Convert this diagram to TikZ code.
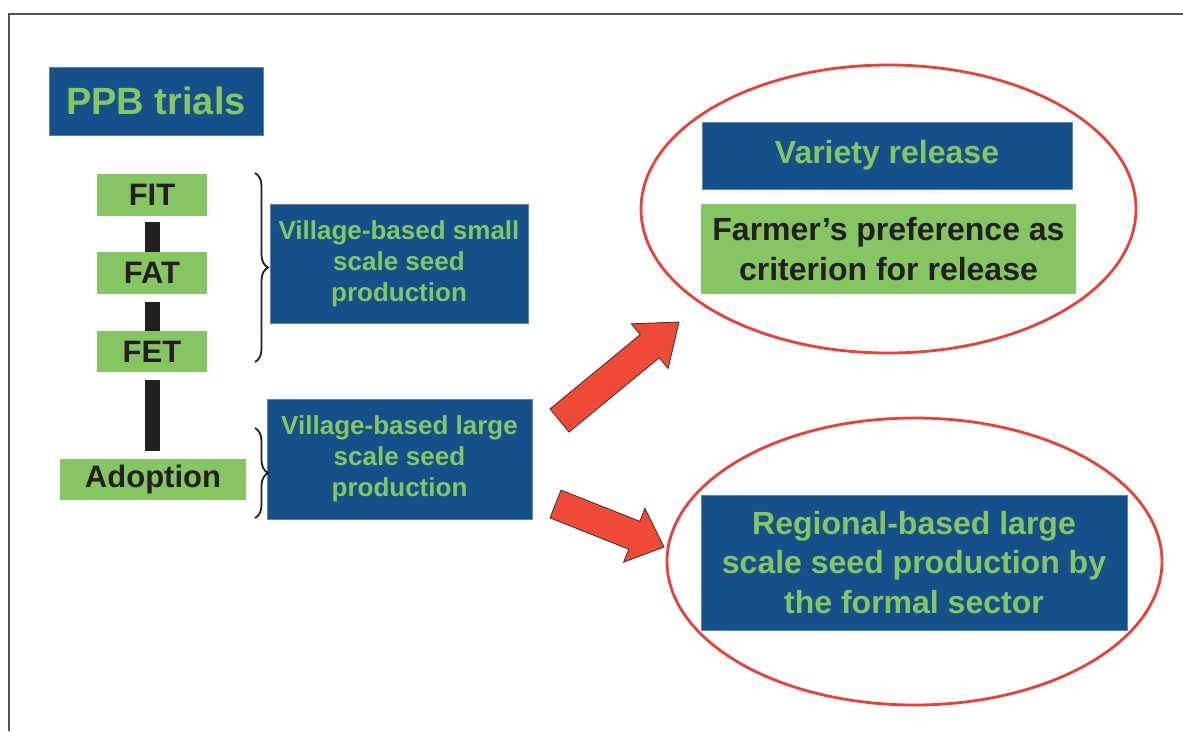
\documentclass[tikz,border=0pt]{standalone}
\usepackage{fontspec}
\setmainfont{Liberation Sans}
\usetikzlibrary{shapes.geometric,decorations.pathreplacing}
\definecolor{pblue}{RGB}{22,80,138}
\definecolor{pgreen}{RGB}{133,198,99}
\definecolor{ptext}{RGB}{35,31,32}
\definecolor{pred}{RGB}{232,66,54}
\definecolor{arrowred}{RGB}{238,74,55}
\definecolor{arrowedge}{RGB}{70,45,45}
\definecolor{framegray}{RGB}{85,85,85}
\begin{document}
\begin{tikzpicture}[x=1pt,y=-1pt,
  bluebox/.style={fill=pblue, draw=pblue!70!white, line width=0.6pt, text=pgreen, inner sep=0pt, align=center},
  greenbox/.style={fill=pgreen, text=ptext, inner sep=0pt, align=center},
  fbig/.style={font=\fontsize{38}{44}\selectfont\bfseries},
  fmid/.style={font=\fontsize{31}{36}\selectfont\bfseries},
  fcirc/.style={font=\fontsize{32}{39.5}\selectfont\bfseries},
  fsmall/.style={font=\fontsize{26}{31}\selectfont\bfseries},
  barline/.style={draw=ptext, line width=15pt},
  bracestyle/.style={draw=ptext, line width=1.8pt, decorate, decoration={brace, amplitude=13pt}},
  ringstyle/.style={draw=pred, line width=2.8pt, ellipse, inner sep=0pt},
  blockarrow/.style={fill=arrowred, draw=arrowedge, line width=0.8pt, line join=miter}
]
\useasboundingbox (0,0) rectangle (1183,731);
% frame
\draw[framegray, line width=1.6pt] (9,731) -- (9,14) -- (1183,14);

% left column
\node[bluebox, fbig, minimum width=214pt, minimum height=68pt] (ppb) at (156,101) {PPB trials};
\node[greenbox, fmid, minimum width=110pt, minimum height=42pt] (fit) at (152,195) {FIT};
\node[greenbox, fmid, minimum width=110pt, minimum height=42pt] (fat) at (152,273) {FAT};
\node[greenbox, fmid, minimum width=110pt, minimum height=41pt] (fet) at (152,351.5) {FET};
\node[greenbox, fmid, minimum width=186pt, minimum height=41pt] (adoption) at (153,479.5) {Adoption};

\draw[barline, shorten <=6pt] (fit.south) -- (fit.south |- fat.north);
\draw[barline, shorten <=8pt] (fat.south) -- (fat.south |- fet.north);
\draw[barline, shorten <=8pt, shorten >=8pt] (fet.south) -- (fet.south |- adoption.north);

% middle boxes
\node[bluebox, fsmall, minimum width=258pt, minimum height=119pt] (small) at (399,263.5) {Village-based small\\scale seed\\production};
\node[bluebox, fsmall, minimum width=265pt, minimum height=120pt] (large) at (399.5,459) {Village-based large\\scale seed\\production};

% braces
\coordinate (b1top) at (255,173);
\coordinate (b1bot) at (255,362);
\coordinate (b2top) at (255,428);
\coordinate (b2bot) at (255,518);
\draw[bracestyle] (b1top) -- (b1bot);
\draw[bracestyle] (b2top) -- (b2bot);

% right ellipses
\node[ringstyle, minimum width=495pt, minimum height=288pt] (ring1) at (888.5,209) {};
\node[bluebox, fcirc, minimum width=370pt, minimum height=67pt] (variety) at (887,155.5) {Variety release};
\node[greenbox, fcirc, minimum width=375pt, minimum height=90pt] (farmer) at (888.5,249) {Farmer’s preference as\\criterion for release};

\node[ringstyle, minimum width=495pt, minimum height=287pt] (ring2) at (914.5,561.5) {};
\node[bluebox, fcirc, minimum width=426pt, minimum height=135pt] (regional) at (914,562.5) {Regional-based large\\scale seed production by\\the formal sector};

% block arrows
\draw[blockarrow] (569.0,432.1) -- (659.2,357.8) -- (668.1,368.6) -- (679,322) -- (631.3,323.8) -- (640.2,334.6) -- (550.0,408.9) -- cycle;
\draw[blockarrow] (561.0,490.1) -- (639.8,521.3) -- (644.9,508.2) -- (664,547) -- (623.6,562.2) -- (628.7,549.2) -- (550.0,517.9) -- cycle;
\end{tikzpicture}
\end{document}
